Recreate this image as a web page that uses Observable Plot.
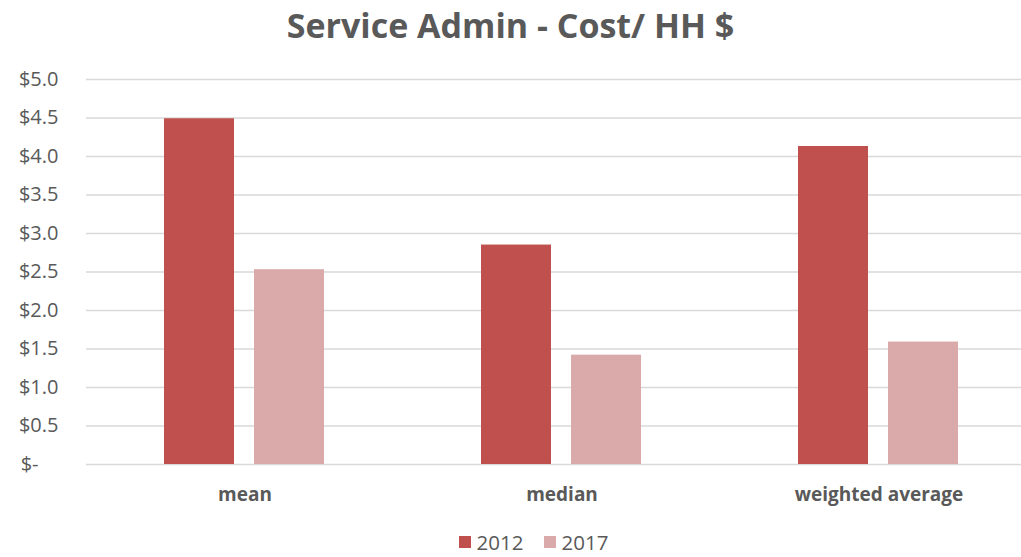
<!DOCTYPE html>
<html>
<head>
<meta charset="utf-8">
<script src="https://cdn.jsdelivr.net/npm/d3@7"></script>
<script src="https://cdn.jsdelivr.net/npm/@observablehq/plot@0.6"></script>
<style>
  html, body { margin: 0; padding: 0; background: #fff; overflow: hidden; width: 1021px; height: 557px; position: relative; }
  body { font-family: "Open Sans", sans-serif; color: #595959; }
  #title { height: 55px; line-height: 50px; text-align: center; font-weight: bold; font-size: 34px; color: #595959; }
  #chart svg { display: block; overflow: visible; }
  #legend { position: absolute; left: 0; top: 532px; width: 1021px; height: 20px; display: flex; justify-content: center; align-items: center; gap: 20px; font-size: 20.5px; line-height: 20px; color: #595959; padding-left: 46px; box-sizing: border-box; }
  .item { display: flex; align-items: center; gap: 6px; height: 20px; }
  .lab { display: inline-block; height: 20px; line-height: 20px; }
  .sw { width: 12px; height: 12px; display: inline-block; }
</style>
</head>
<body>
<div id="title">Service Admin - Cost/ HH $</div>
<div id="chart"></div>
<div id="legend"></div>
<script>
const categories = ["mean", "median", "weighted average"];
const years = ["2012", "2017"];
const values2012 = [4.49, 2.85, 4.13];
const values2017 = [2.53, 1.42, 1.59];
const yTicks = [0, 0.5, 1, 1.5, 2, 2.5, 3, 3.5, 4, 4.5, 5];
const colors = ["#C0504D", "#DAA9A9"];

const rows = [];
categories.forEach((c, i) => {
  rows.push({category: c, year: years[0], value: values2012[i]});
  rows.push({category: c, year: years[1], value: values2017[i]});
});

const fmt = d => d === 0 ? "$-\u2002\u2002" : "$" + d.toFixed(1);

const chart = Plot.plot({
  width: 1021,
  height: 475,
  marginTop: 24,
  marginBottom: 66,
  marginLeft: 85,
  marginRight: -17,
  style: {fontFamily: "'Open Sans', sans-serif", background: "transparent"},
  fx: {domain: categories, padding: 0, label: null},
  x: {domain: years, paddingInner: 0.22, paddingOuter: 0.854, axis: null},
  y: {domain: [0, 5], axis: null},
  color: {domain: years, range: colors},
  marks: [
    Plot.ruleY(yTicks, {stroke: "#D9D9D9", strokeWidth: 1.5}),
    Plot.barY(rows, {fx: "category", x: "year", y: "value", fill: "year"}),
    Plot.axisY({ticks: yTicks, tickFormat: fmt, tickSize: 0, tickPadding: 28, fontSize: 20, color: "#595959", label: null}),
    Plot.axisFx({anchor: "bottom", tickSize: 0, tickPadding: 23, fontSize: 19, fontWeight: "bold", color: "#595959", label: null})
  ]
});
document.getElementById("chart").appendChild(chart);

const legend = document.getElementById("legend");
years.forEach((y, i) => {
  const item = document.createElement("span");
  item.className = "item";
  const sw = document.createElement("span");
  sw.className = "sw";
  sw.style.background = colors[i];
  const t = document.createElement("span");
  t.className = "lab";
  t.textContent = y;
  item.appendChild(sw);
  item.appendChild(t);
  legend.appendChild(item);
});
</script>
</body>
</html>
